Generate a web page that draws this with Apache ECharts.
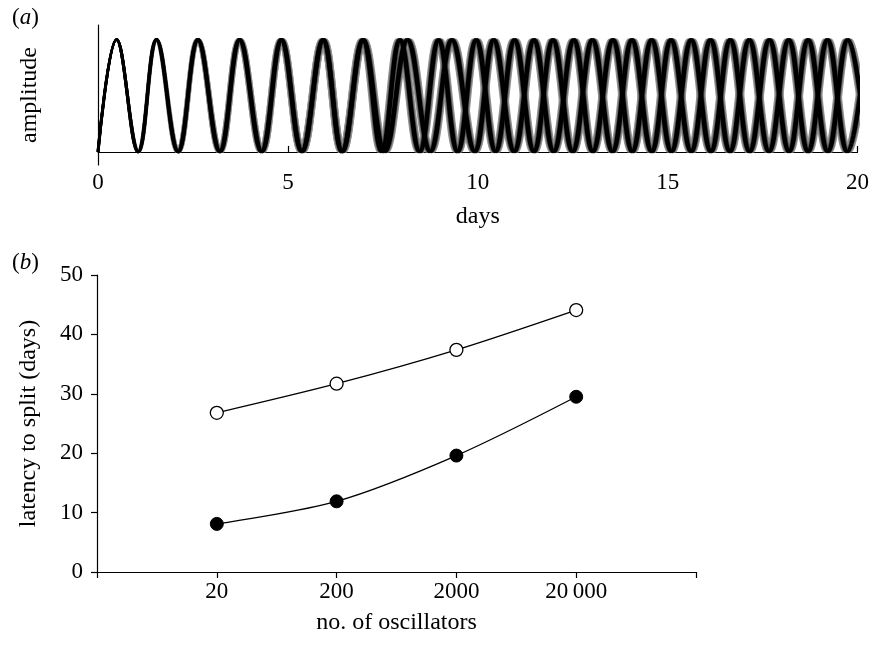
<!DOCTYPE html>
<html>
<head>
<meta charset="utf-8">
<script src="https://cdn.jsdelivr.net/npm/echarts@6/dist/echarts.min.js"></script>
<style>
html,body{margin:0;padding:0;background:#fff;}
#chart{width:872px;height:645px;}
</style>
</head>
<body>
<div id="chart"></div>
<script>
// ---------- Panel (a): oscillator traces ----------
// Extremum times (days) of each oscillator group, alternating trough (even index) / peak (odd index)
const extremaGroupA = [0, 0.49, 1.06, 1.54, 2.11, 2.63, 3.21, 3.73, 4.31, 4.83, 5.37, 5.93, 6.43, 6.98, 7.47, 7.95, 8.47, 8.97, 9.47, 9.96, 10.47, 10.97, 11.48, 11.98, 12.5, 13.02, 13.55, 14.06, 14.58, 15.09, 15.62, 16.13, 16.64, 17.15, 17.67, 18.19, 18.7, 19.21, 19.73, 20.25];
const extremaGroupB = [0, 0.49, 1.06, 1.54, 2.11, 2.63, 3.21, 3.73, 4.31, 4.83, 5.37, 5.93, 6.43, 6.98, 7.55, 8.15, 8.75, 9.32, 9.92, 10.42, 10.96, 11.48, 12.0, 12.53, 13.03, 13.56, 14.07, 14.58, 15.1, 15.62, 16.14, 16.65, 17.16, 17.68, 18.2, 18.7, 19.22, 19.74, 20.26];
const extremumLevels = [0, 1]; // trough, peak amplitude
// half-width of the phase spread within a group, per cycle (days)
const phaseSpread = [0.01, 0.03, 0.05, 0.065, 0.075, 0.085, 0.09, 0.095, 0.095, 0.095, 0.095, 0.095, 0.095, 0.095, 0.095, 0.095, 0.095, 0.095, 0.095, 0.095];
// relative position of each oscillator inside its group's band
const traceOffsets = [-1, 1, -0.6, 0.6, -0.25, 0.25];
const traceColors = ['#909090', '#909090', '#555555', '#555555', '#000000', '#000000'];
const traceWidths = [1.8, 1.8, 2, 2, 2.8, 2.8];
const daysTicks = [0, 5, 10, 15, 20];

// ---------- Panel (b): latency to split ----------
const oscillatorCategories = ['2', '20', '200', '2000', '20\u2009000', '200\u2009000'];
const measuredCategories = ['20', '200', '2000', '20\u2009000'];
const latencyOpen = [26.8, 31.7, 37.4, 44.1];
const latencyFilled = [8.1, 11.9, 19.6, 29.5];

const FONT = 'Liberation Serif';
const FS = 23;

function traceData(extrema, off) {
  return extrema.map((t, i) => [t + off * phaseSpread[Math.floor(i / 2)], extremumLevels[i % 2]]);
}

const series = [];
[extremaGroupA, extremaGroupB].forEach((ext) => {
  traceOffsets.forEach((off, k) => {
    series.push({
      type: 'line', xAxisIndex: 0, yAxisIndex: 0,
      data: traceData(ext, off),
      showSymbol: false, symbol: 'none', smooth: 0.4, clip: true,
      lineStyle: { color: traceColors[k], width: traceWidths[k] },
      silent: true, animation: false, z: 2 + Math.floor(k / 2)
    });
  });
});

series.push({
  type: 'line', xAxisIndex: 1, yAxisIndex: 1,
  data: measuredCategories.map((c, i) => [c, latencyOpen[i]]),
  smooth: 0.3, symbol: 'circle', symbolSize: 13,
  itemStyle: { color: '#ffffff', borderColor: '#000', borderWidth: 1.3 },
  lineStyle: { color: '#000', width: 1.3 }, animation: false, z: 5
});
series.push({
  type: 'line', xAxisIndex: 1, yAxisIndex: 1,
  data: measuredCategories.map((c, i) => [c, latencyFilled[i]]),
  smooth: 0.3, symbol: 'circle', symbolSize: 13,
  itemStyle: { color: '#000', borderColor: '#000', borderWidth: 1 },
  lineStyle: { color: '#000', width: 1.3 }, animation: false, z: 5
});

const axisLine = { show: true, lineStyle: { color: '#000', width: 1.2 } };
const labelStyle = { fontFamily: FONT, fontSize: FS, color: '#000' };
const nameStyle = { fontFamily: FONT, fontSize: 24, color: '#000' };

const option = {
  backgroundColor: '#fff',
  animation: false,
  textStyle: { fontFamily: FONT },
  grid: [
    { left: 98, top: 25, width: 760, height: 140 },
    { left: 97, top: 275, width: 599, height: 297 }
  ],
  xAxis: [
    {
      gridIndex: 0, type: 'value', min: 0, max: 20, interval: 5,
      axisLine: axisLine,
      axisTick: { show: true, inside: true, length: 6, lineStyle: { color: '#000', width: 1.2 } },
      axisLabel: Object.assign({ margin: 6 }, labelStyle),
      splitLine: { show: false },
      name: 'days', nameLocation: 'middle', nameGap: 40,
      nameTextStyle: nameStyle
    },
    {
      gridIndex: 1, type: 'category', data: oscillatorCategories, boundaryGap: false,
      axisLine: axisLine,
      axisTick: { show: true, inside: false, length: 6, interval: 0, lineStyle: { color: '#000', width: 1.2 } },
      axisLabel: Object.assign({
        margin: 8, interval: 0,
        formatter: (v, i) => (i === 0 || i === oscillatorCategories.length - 1) ? '' : v
      }, labelStyle),
      splitLine: { show: false },
      name: 'no. of oscillators', nameLocation: 'middle', nameGap: 39,
      nameTextStyle: nameStyle
    }
  ],
  yAxis: [
    {
      gridIndex: 0, type: 'value', min: -0.116, max: 1.129,
      axisLine: axisLine, axisTick: { show: false }, axisLabel: { show: false },
      splitLine: { show: false },
      name: 'amplitude', nameLocation: 'middle', nameGap: 56, nameRotate: 90,
      nameTextStyle: nameStyle
    },
    {
      gridIndex: 1, type: 'value', min: 0, max: 50, interval: 10,
      axisLine: axisLine,
      axisTick: { show: true, inside: false, length: 6, lineStyle: { color: '#000', width: 1.2 } },
      axisLabel: Object.assign({ margin: 14 }, labelStyle),
      splitLine: { show: false },
      name: 'latency to split (days)', nameLocation: 'middle', nameGap: 56, nameRotate: 90,
      nameTextStyle: nameStyle
    }
  ],
  graphic: [
    {
      type: 'text', left: 12, top: 6,
      style: {
        text: '{n|(}{i|a}{n|)}',
        rich: {
          n: { fontFamily: FONT, fontSize: 23, fill: '#000' },
          i: { fontFamily: FONT, fontSize: 23, fontStyle: 'italic', fill: '#000' }
        }
      }
    },
    {
      type: 'text', left: 12, top: 251,
      style: {
        text: '{n|(}{i|b}{n|)}',
        rich: {
          n: { fontFamily: FONT, fontSize: 23, fill: '#000' },
          i: { fontFamily: FONT, fontSize: 23, fontStyle: 'italic', fill: '#000' }
        }
      }
    }
  ],
  series: series
};

const chart = echarts.init(document.getElementById('chart'), null, { renderer: 'canvas' });
chart.setOption(option);
</script>
</body>
</html>
